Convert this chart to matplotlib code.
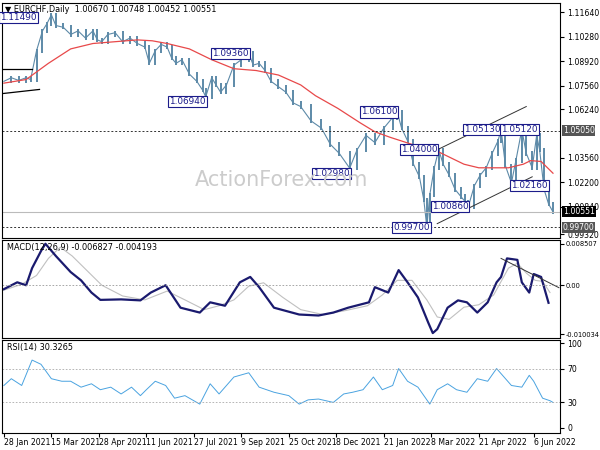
import matplotlib
matplotlib.use("Agg")
import matplotlib.pyplot as plt
import numpy as np

# ---- data (bar index, value) ----
price_idx = [0,5,10,15,18,22,26,29,32,35,40,45,50,55,60,63,66,70,75,80,85,90,95,98,102,106,110,113,116,120,125,130,134,136,140,143,146,150,155,160,165,168,172,176,180,185,190,195,200,207,214,220,226,233,238,244,250,256,262,265,268,272,276,280,283,285,287,290,293,296,300,304,308,311,313,317,321,325,329,333,335,338,342,345,349,352,356,359,361,364,367,370]
price_cls = [1.0780,1.0800,1.0785,1.0800,1.0790,1.0950,1.1060,1.1100,1.1149,1.1090,1.1080,1.1040,1.1060,1.1020,1.1060,1.1010,1.1000,1.1040,1.1050,1.1000,1.1020,1.0990,1.0970,1.0880,1.0950,1.0985,1.0970,1.0910,1.0880,1.0900,1.0820,1.0780,1.0730,1.0694,1.0800,1.0760,1.0720,1.0760,1.0870,1.0900,1.0936,1.0870,1.0880,1.0840,1.0780,1.0750,1.0720,1.0660,1.0640,1.0560,1.0520,1.0430,1.0380,1.0298,1.0400,1.0480,1.0440,1.0520,1.0580,1.0610,1.0520,1.0450,1.0320,1.0250,1.0120,0.9970,1.0150,1.0300,1.0400,1.0320,1.0260,1.0180,1.0140,1.0110,1.0086,1.0200,1.0260,1.0300,1.0380,1.0450,1.0513,1.0310,1.0216,1.0340,1.0512,1.0380,1.0300,1.0480,1.0400,1.0180,1.0100,1.00551]
ma_idx = [0,15,30,45,60,75,90,100,110,125,140,155,170,185,200,210,225,240,250,260,275,290,300,310,320,330,340,350,355,362,370]
ma_val = [1.0770,1.0790,1.0880,1.0960,1.0990,1.1000,1.1010,1.1005,1.0990,1.0960,1.0900,1.0850,1.0840,1.0815,1.0760,1.0700,1.0630,1.0550,1.0500,1.0470,1.0430,1.0400,1.0360,1.0320,1.0300,1.0300,1.0300,1.0320,1.0340,1.0335,1.0270]
macd_idx = [0,9,15,19,25,28,35,45,52,59,65,79,92,99,109,119,132,139,149,159,166,172,182,199,212,222,232,246,250,259,266,272,279,286,289,292,299,306,312,319,326,332,335,339,346,349,354,357,362,367]
macd_val = [-0.0008,0.0006,0.0000,0.0035,0.0070,0.0085,0.0060,0.0027,0.0010,-0.0015,-0.0030,-0.0029,-0.0031,-0.0015,0.0000,-0.0046,-0.0056,-0.0035,-0.0042,0.0006,0.0017,-0.0004,-0.0046,-0.0060,-0.0062,-0.0056,-0.0046,-0.0035,-0.0004,-0.0015,0.0031,0.0006,-0.0025,-0.0077,-0.0098,-0.0090,-0.0046,-0.0031,-0.0035,-0.0056,-0.0035,0.0006,0.0017,0.0055,0.0052,0.0006,-0.0015,0.0023,0.0017,-0.0036]
sig_idx = [0,12,22,30,38,46,56,66,80,95,110,122,135,145,155,165,175,188,200,215,230,245,255,265,275,285,292,300,310,320,330,340,346,352,358,363,368]
sig_val = [-0.0010,0.0002,0.0020,0.0055,0.0078,0.0060,0.0030,0.0000,-0.0022,-0.0030,-0.0012,-0.0030,-0.0050,-0.0042,-0.0030,-0.0002,0.0005,-0.0025,-0.0050,-0.0060,-0.0052,-0.0042,-0.0020,0.0010,0.0010,-0.0030,-0.0065,-0.0070,-0.0045,-0.0040,-0.0020,0.0035,0.0045,0.0025,0.0010,0.0008,-0.0015]
rsi_idx = [0,5,12,19,25,32,39,45,52,59,65,72,79,86,92,96,102,109,115,122,132,139,145,155,165,172,182,192,199,205,212,222,229,235,242,249,255,262,266,272,279,287,292,299,305,312,319,326,332,336,342,349,354,357,363,368,370]
rsi_val = [50,58,50,80,75,58,55,55,48,52,45,48,40,48,38,45,55,50,35,38,28,52,40,60,65,48,42,38,28,33,34,30,40,42,45,60,45,50,70,55,48,28,45,52,45,42,58,55,70,62,50,48,62,55,35,32,30]
tick_pos = [0,32,64,96,128,160,192,224,256,288,320,357]
tick_lab = ["28 Jan 2021","15 Mar 2021","28 Apr 2021","11 Jun 2021","27 Jul 2021","9 Sep 2021",
            "25 Oct 2021","8 Dec 2021","21 Jan 2022","8 Mar 2022","21 Apr 2022","6 Jun 2022"]
main_ticks = [1.11640,1.10280,1.08920,1.07560,1.06240,1.03560,1.02200,1.00840,0.99320]
# (bar index, label y, text, side)
labels = [(22,1.1132,"1.11490",'r'),(165,1.0936,"1.09360",'r'),(136,1.0670,"1.06940",'r'),(265,1.0610,"1.06100",'r'),
          (233,1.0268,"1.02980",'r'),(292,1.0400,"1.04000",'r'),(287,0.9970,"0.99700",'r'),(313,1.0086,"1.00860",'r'),
          (335,1.0513,"1.05130",'r'),(335,1.0513,"1.05120",'l'),(342,1.0200,"1.02160",'l')]

fs = 5.6
fig = plt.figure(figsize=(6, 4.5), dpi=100)
XL = (-1, 375)
ax = fig.add_axes([0.004, 0.471, 0.93, 0.522])
m = fig.add_axes([0.004, 0.249, 0.93, 0.218])
r = fig.add_axes([0.004, 0.038, 0.93, 0.207])
for a in (ax, m, r):
    a.set_xlim(*XL)
    a.yaxis.tick_right()
    a.tick_params(axis='y', labelsize=fs, length=3, pad=2)
    a.tick_params(axis='x', length=0)
    a.set_xticks([])
    for s in a.spines.values():
        s.set_linewidth(0.8)

bc = '#5d8aa8'
pi = np.array(price_idx); pc = np.array(price_cls)
ax.vlines(pi[1:], np.minimum(pc[:-1], pc[1:]) - 0.0012, np.maximum(pc[:-1], pc[1:]) + 0.0012, color=bc, lw=1.4)
ax.plot(pi, pc, color=bc, lw=0.8)
ax.plot(ma_idx, ma_val, color='#e8494a', lw=0.9)
ax.set_ylim(0.9910, 1.1214)
ax.set_yticks(main_ticks)
ax.set_yticklabels([f"{v:.5f}" for v in main_ticks])
ax.axhline(1.0505, color='#333', ls=(0, (2, 2)), lw=0.7)
ax.axhline(0.9970, color='#333', ls=(0, (2, 2)), lw=0.7)
ax.axhline(1.00551, color='#bbb', lw=0.8)
ax.plot([292, 352], [1.0400, 1.0640], color='#333', lw=0.7)
ax.plot([292, 356], [0.9990, 1.0250], color='#333', lw=0.7)
ax.plot([-1, 19], [1.0850, 1.0850], color='black', lw=0.9)
ax.plot([-1, 24], [1.0712, 1.0735], color='black', lw=0.9)
for (xi, yv, t, side) in labels:
    ax.text(xi, yv, t, fontsize=fs + 0.8, color='#1c1c8a', ha='right' if side == 'r' else 'left',
            va='center', bbox=dict(boxstyle='square,pad=0.12', fc='white', ec='#1c1c8a', lw=0.8))
for yv, t, fc in [(1.0505, "1.05050", '#555'), (1.00551, "1.00551", 'black'), (0.9970, "0.99700", '#555')]:
    ax.text(1.004, yv, t, transform=ax.get_yaxis_transform(), fontsize=fs, color='white', va='center',
            ha='left', bbox=dict(boxstyle='square,pad=0.12', fc=fc, ec='none'), clip_on=False)
ax.text(0.5, 0.22, "ActionForex.com", transform=ax.transAxes, fontsize=15, color='#cccccc', ha='center')
ax.text(0.004, 0.99, "\u25bc EURCHF,Daily  1.00670 1.00748 1.00452 1.00551", transform=ax.transAxes,
        fontsize=fs + 0.3, va='top')

m.plot(sig_idx, sig_val, color='#c0c0c0', lw=0.8)
m.plot(macd_idx, macd_val, color='#1a1a6e', lw=1.6)
m.plot([335, 374], [0.0055, -0.0005], color='#333', lw=0.7)
m.axhline(0, color='#999', ls=(0, (2, 2)), lw=0.6)
m.set_ylim(-0.0108, 0.0093)
m.set_yticks([0.008507, 0.0, -0.010034])
m.set_yticklabels(["0.008507", "0.00", "-0.010034"])
m.tick_params(axis='y', labelsize=4.8, pad=1)
m.text(0.008, 0.97, "MACD(12,26,9) -0.006827 -0.004193", transform=m.transAxes, fontsize=fs + 0.3, va='top')

r.plot(rsi_idx, rsi_val, color='#4aa3e0', lw=0.7)
for v in (70, 30):
    r.axhline(v, color='#aaa', ls=(0, (2, 2)), lw=0.6)
r.set_ylim(-6, 104)
r.set_yticks([100, 70, 30, 0])
r.text(0.008, 0.96, "RSI(14) 30.3265", transform=r.transAxes, fontsize=fs + 0.3, va='top')
r.set_xticks(tick_pos)
r.set_xticklabels(tick_lab, fontsize=fs, ha='left')
r.tick_params(axis='x', length=3, pad=1)
fig.savefig("out.png", dpi=100)
